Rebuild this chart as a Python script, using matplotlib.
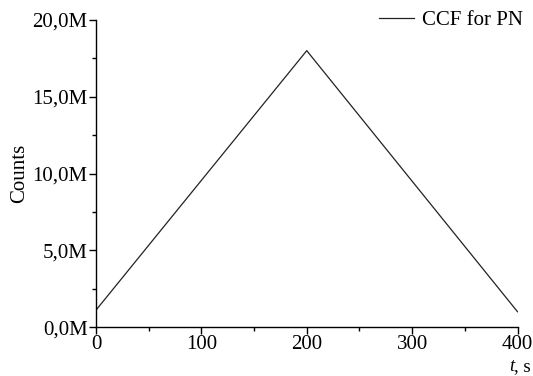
import matplotlib as mpl
mpl.use('Agg')
import matplotlib.pyplot as plt
from matplotlib.ticker import FuncFormatter, MultipleLocator

# triangle-shaped cross-correlation
t_values = [0, 200, 400]
counts = [1.1e6, 18.0e6, 1.0e6]
series_label = 'CCF for PN'

plt.rcParams['font.family'] = ['Liberation Serif', 'DejaVu Serif']
plt.rcParams['font.size'] = 15

fig = plt.figure(figsize=(5.33, 3.76), dpi=100)
ax = fig.add_axes([0.180, 0.130, 0.791, 0.817])

ax.plot(t_values, counts, color='#222222', linewidth=0.9, label=series_label)

ax.set_xlim(0, 400)
ax.set_ylim(0, 20e6)
ax.xaxis.set_major_locator(MultipleLocator(100))
ax.xaxis.set_minor_locator(MultipleLocator(50))
ax.yaxis.set_major_locator(MultipleLocator(5e6))
ax.yaxis.set_minor_locator(MultipleLocator(2.5e6))
ax.yaxis.set_major_formatter(FuncFormatter(lambda v, p: f'{v/1e6:.1f}M'.replace('.', ',')))

for s in ('top', 'right'):
    ax.spines[s].set_visible(False)
for s in ('left', 'bottom'):
    ax.spines[s].set_linewidth(1.0)
ax.tick_params(which='major', direction='out', length=5, width=1.0, pad=1)
ax.tick_params(which='minor', direction='out', length=3, width=1.0)

ax.set_ylabel('Counts', labelpad=2)

# axis title sits under the last tick label, at the right end: italic t, then ", s"
t_txt = fig.text(0.955, 0.002, 't', ha='left', va='bottom', fontsize=13.5, style='italic')
ax.annotate(', s', xy=(1, 0), xycoords=t_txt, ha='left', va='bottom', fontsize=13.5,
            annotation_clip=False)

fig.legend(loc='upper right', bbox_to_anchor=(1.017, 1.022), frameon=False,
           handlelength=1.7, handletextpad=0.4)

fig.savefig('out.png', dpi=100)
